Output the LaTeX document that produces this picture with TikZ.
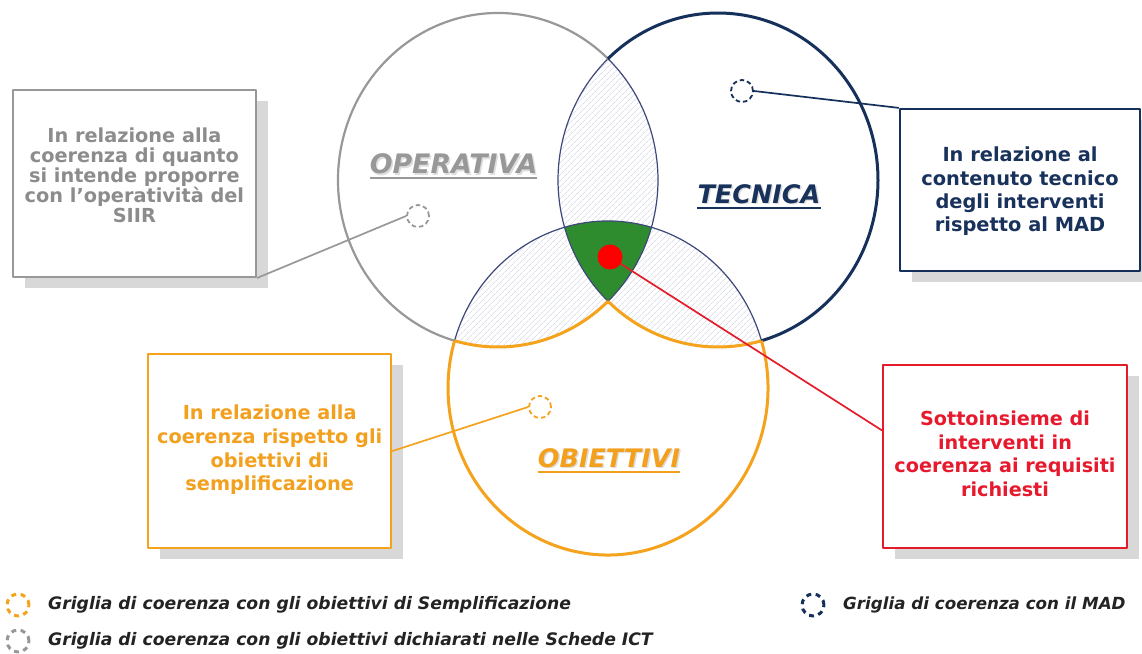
\documentclass[tikz,border=0pt]{standalone}
\usepackage{fontspec}
\setmainfont{DejaVu Sans}
\usetikzlibrary{patterns.meta,shadows}
\definecolor{cgray}{RGB}{152,152,152}
\definecolor{cnavy}{RGB}{22,48,92}
\definecolor{corange}{RGB}{245,162,28}
\definecolor{cred}{RGB}{228,28,42}
\definecolor{cgreen}{RGB}{46,140,46}
\definecolor{cthin}{RGB}{62,72,122}
\definecolor{chatch}{RGB}{200,206,220}
\definecolor{cshadow}{RGB}{216,216,216}
\definecolor{tgray}{RGB}{140,140,140}
\definecolor{tnavy}{RGB}{25,50,92}
\definecolor{torange}{RGB}{242,160,30}
\definecolor{tred}{RGB}{230,25,45}
\definecolor{tlegend}{RGB}{35,35,35}
\begin{document}
\begin{tikzpicture}[x=1pt,y=-1pt,line join=round,
  infobox/.style n args={3}{draw=#1, line width=2.2pt, fill=white, inner sep=0pt,
    minimum width=#2, minimum height=#3,
    drop shadow={shadow xshift=12pt, shadow yshift=-11pt, fill=cshadow, opacity=1}},
  boxtext/.style n args={3}{align=center, inner sep=0pt, anchor=north, text=#1,
    font=\bfseries\fontsize{#3}{#2}\selectfont},
  setlabel/.style={inner sep=0pt, anchor=base, font=\bfseries\itshape\fontsize{#1}{30}\selectfont},
  labshadow/.style={setlabel=#1, text=black!13},
  icon/.style={circle, draw=#1, inner sep=0pt, minimum size=22pt, line width=1.8pt, dash pattern=on 4.5pt off 3pt},
  legicon/.style={circle, draw=#1, inner sep=0pt, minimum size=22pt, line width=3pt, dash pattern=on 5pt off 4.5pt},
  legtext/.style={anchor=west, inner sep=0pt, text=tlegend, font=\bfseries\itshape\fontsize{#1}{20}\selectfont},
  hatch/.style={pattern={Lines[angle=45,distance=4pt,line width=0.6pt]}, pattern color=chatch},
  thinarc/.style={draw=cthin, line width=1.2pt},
  grayarc/.style={draw=cgray, line width=2.2pt},
  navyarc/.style={draw=cnavy, line width=3pt},
  orangearc/.style={draw=corange, line width=3pt},
  conn/.style={line width=1.7pt}
]
\fill[white, use as bounding box] (0,0) rectangle (1142,653);

\coordinate (cG) at (498,180);
\coordinate (cN) at (718,180);
\coordinate (cO) at (608,388);

% hatched lenses
\begin{scope}
  \clip (cG) ellipse [x radius=160, y radius=167];
  \fill[hatch] (cN) ellipse [x radius=160, y radius=167];
  \fill[hatch] (cO) ellipse [x radius=160, y radius=167];
\end{scope}
\begin{scope}
  \clip (cN) ellipse [x radius=160, y radius=167];
  \fill[hatch] (cO) ellipse [x radius=160, y radius=167];
\end{scope}
% common part
\begin{scope}
  \clip (cG) ellipse [x radius=160, y radius=167];
  \clip (cN) ellipse [x radius=160, y radius=167];
  \fill[cgreen] (cO) ellipse [x radius=160, y radius=167];
\end{scope}

% inner arcs
\draw[thinarc] (cG) ++(-46.56:160 and 167) arc[start angle=-46.56, end angle=46.56, x radius=160, y radius=167];
\draw[thinarc] (cN) ++(133.44:160 and 167) arc[start angle=133.44, end angle=226.56, x radius=160, y radius=167];
\draw[thinarc] (cO) ++(196.44:160 and 167) arc[start angle=196.44, end angle=343.56, x radius=160, y radius=167];
\draw[orangearc] (cG) ++(46.56:160 and 167) arc[start angle=46.56, end angle=105.76, x radius=160, y radius=167];
\draw[orangearc] (cN) ++(74.24:160 and 167) arc[start angle=74.24, end angle=133.44, x radius=160, y radius=167];
% outer arcs
\draw[grayarc] (cG) ++(105.76:160 and 167) arc[start angle=105.76, end angle=313.44, x radius=160, y radius=167];
\draw[navyarc] (cN) ++(-133.44:160 and 167) arc[start angle=-133.44, end angle=74.24, x radius=160, y radius=167];
\draw[orangearc] (cO) ++(-16.44:160 and 167) arc[start angle=-16.44, end angle=196.44, x radius=160, y radius=167];

% circle labels
\node[labshadow=26.8] (opsh) at (455,175) {OPERATIVA};
\node[setlabel=26.8, text=cgray] (oplbl) at (453.5,173.5) {OPERATIVA};
\draw[cgray, line width=2pt] ([yshift=-4.5pt]oplbl.base west) -- ([yshift=-4.5pt]oplbl.base east);
\node[labshadow=25.5] (tesh) at (760.5,204.5) {TECNICA};
\node[setlabel=25.5, text=tnavy] (telbl) at (759,203) {TECNICA};
\draw[tnavy, line width=2pt] ([yshift=-4.5pt]telbl.base west) -- ([yshift=-4.5pt]telbl.base east);
\node[labshadow=25.5] (obsh) at (610.5,468.5) {OBIETTIVI};
\node[setlabel=25.5, text=torange] (oblbl) at (609,467) {OBIETTIVI};
\draw[torange, line width=2pt] ([yshift=-4.5pt]oblbl.base west) -- ([yshift=-4.5pt]oblbl.base east);

% dashed markers
\node[icon=cgray] (gicon) at (418,216) {};
\node[icon=cnavy] (nicon) at (742,91) {};
\node[icon=corange] (oicon) at (540,407) {};

% boxes
\node[infobox={cgray}{243pt}{187pt}] (gbox) at (134.4,183.4) {};
\node[boxtext={tgray}{20}{19.3}] (gtxt) at (134.4,127.8) {In relazione alla\\coerenza di quanto\\si intende proporre\\con l’operatività del\\SIIR};
\node[infobox={cnavy}{240pt}{162pt}] (nbox) at (1020,190) {};
\node[boxtext={tnavy}{23.3}{19.4}] (ntxt) at (1020,146.9) {In relazione al\\contenuto tecnico\\degli interventi\\rispetto al MAD};
\node[infobox={corange}{242.4pt}{194.3pt}] (obox) at (269.5,451.2) {};
\node[boxtext={torange}{23.7}{19.3}] (otxt) at (269.7,404.9) {In relazione alla\\coerenza rispetto gli\\obiettivi di\\semplificazione};
\node[infobox={cred}{244pt}{183pt}] (rbox) at (1005,456.5) {};
\node[boxtext={tred}{23.5}{19.2}] (rtxt) at (1005,410.9) {Sottoinsieme di\\interventi in\\coerenza ai requisiti\\richiesti};

% connectors
\draw[conn, cgray] (gbox.south east) -- (gicon.west);
\draw[conn, cnavy] (nicon.east) -- (nbox.north west);
\draw[conn, corange] (obox.east) -- (oicon.west);
\draw[conn, cred] (rbox.168.6) -- (610,257) coordinate (dotc);
\node[circle, fill=red, minimum size=25pt, inner sep=0pt] (dot) at (dotc) {};

% legend
\node[legicon=corange] (lg1) at (18,605) {};
\node[legtext=17.2] (lt1) at (48,605) {Griglia di coerenza con gli obiettivi di Semplificazione};
\node[legicon=cgray] (lg2) at (18,641) {};
\node[legtext=17.2] (lt2) at (48,641) {Griglia di coerenza con gli obiettivi dichiarati nelle Schede ICT};
\node[legicon=cnavy] (lg3) at (813,605) {};
\node[legtext=16.7] (lt3) at (843,605) {Griglia di coerenza con il MAD};
\end{tikzpicture}
\end{document}
